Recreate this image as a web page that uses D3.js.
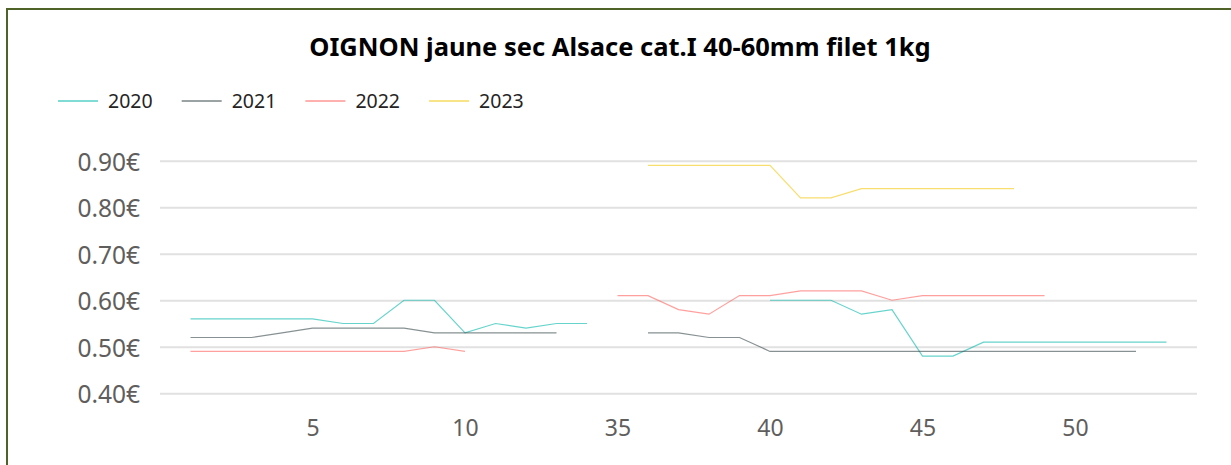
<!DOCTYPE html>
<html>
<head>
<meta charset="utf-8">
<script src="https://cdn.jsdelivr.net/npm/d3@7"></script>
<style>
  body { margin: 0; background: #fff; }
  svg { display: block; font-family: "Noto Sans", "Open Sans", sans-serif; }
</style>
</head>
<body>
<div id="chart"></div>
<script>
// week numbers shown on the x axis (gap between week 14 and 35)
const weeks = [1, 2, 3, 4, 5, 6, 7, 8, 9, 10, 11, 12, 13, 14,
    35, 36, 37, 38, 39, 40, 41, 42, 43, 44, 45, 46, 47, 48, 49, 50, 51, 52, 53];

const years = ["2020", "2021", "2022", "2023"];
const colors = ["#01B8AA", "#374649", "#FD625E", "#F2C80F"];

// prices per week, null = no quote
const p2020 = [0.56, 0.56, 0.56, 0.56, 0.56, 0.55, 0.55, 0.60, 0.60, 0.53, 0.55, 0.54, 0.55, 0.55,
    null, null, null, null, null, 0.60, 0.60, 0.60, 0.57, 0.58, 0.48, 0.48, 0.51, 0.51, 0.51, 0.51, 0.51, 0.51, 0.51];
const p2021 = [0.52, 0.52, 0.52, 0.53, 0.54, 0.54, 0.54, 0.54, 0.53, 0.53, 0.53, 0.53, 0.53, null,
    null, 0.53, 0.53, 0.52, 0.52, 0.49, 0.49, 0.49, 0.49, 0.49, 0.49, 0.49, 0.49, 0.49, 0.49, 0.49, 0.49, 0.49, null];
const p2022 = [0.49, 0.49, 0.49, 0.49, 0.49, 0.49, 0.49, 0.49, 0.50, 0.49, null, null, null, null,
    0.61, 0.61, 0.58, 0.57, 0.61, 0.61, 0.62, 0.62, 0.62, 0.60, 0.61, 0.61, 0.61, 0.61, 0.61, null, null, null, null];
const p2023 = [null, null, null, null, null, null, null, null, null, null, null, null, null, null,
    null, 0.89, 0.89, 0.89, 0.89, 0.89, 0.82, 0.82, 0.84, 0.84, 0.84, 0.84, 0.84, 0.84, null, null, null, null, null];

const yTicks = [0.40, 0.50, 0.60, 0.70, 0.80, 0.90];
const xTicks = [5, 10, 35, 40, 45, 50];

const series = [p2020, p2021, p2022, p2023];

const width = 1231, height = 465;
const plot = {left: 160, right: 1197, top: 160.7, bottom: 393.3};

let svg = d3.select("#chart")
    .append("svg")
    .attr("width", width)
    .attr("height", height);

// frame
svg.append("rect")
    .attr("x", 7)
    .attr("y", 9)
    .attr("width", width + 20)
    .attr("height", height + 20)
    .attr("fill", "none")
    .attr("stroke", "#4F6228")
    .attr("stroke-width", 2);

svg.append("text")
    .attr("x", 620)
    .attr("y", 56)
    .style("text-anchor", "middle")
    .style("font-size", "25.5px")
    .style("font-weight", "bold")
    .attr("fill", "#000")
    .text("OIGNON jaune sec Alsace cat.I 40-60mm filet 1kg");

// legend
let legend = svg.append("g");
years.forEach(function(yr, i) {
    let lx = 58 + i * 123.7;
    legend.append("line")
        .attr("x1", lx).attr("x2", lx + 40)
        .attr("y1", 101).attr("y2", 101)
        .attr("stroke", colors[i])
        .attr("stroke-width", 1);
    legend.append("text")
        .attr("x", lx + 50)
        .attr("y", 101)
        .attr("dy", "0.35em")
        .style("font-size", "19.5px")
        .attr("fill", "#252423")
        .text(yr);
});

let x = d3.scalePoint()
    .domain(weeks)
    .range([plot.left, plot.right])
    .padding(1);

let y = d3.scaleLinear()
    .domain([0.40, 0.90])
    .range([plot.bottom, plot.top]);

// y gridlines + labels
let yAxis = svg.append("g")
    .attr("transform", `translate(${plot.left}, 0)`)
    .call(d3.axisLeft(y)
        .tickValues(yTicks)
        .tickSize(-(plot.right - plot.left))
        .tickPadding(20)
        .tickFormat(function(d) { return d.toFixed(2) + "€"; }));

yAxis.select(".domain").remove();
yAxis.selectAll(".tick line")
    .attr("stroke", "#E1E1E1")
    .attr("stroke-width", 2);
yAxis.selectAll(".tick text")
    .attr("fill", "#605E5C")
    .style("font-size", "24.5px")
    .style("font-family", "'Noto Sans', sans-serif")
    .attr("dy", "0.38em");

// x axis labels
let xAxis = svg.append("g")
    .attr("transform", `translate(0, ${plot.bottom})`)
    .call(d3.axisBottom(x)
        .tickValues(xTicks)
        .tickSize(0)
        .tickPadding(26));

xAxis.select(".domain").remove();
xAxis.selectAll(".tick text")
    .attr("fill", "#605E5C")
    .style("font-size", "23px")
    .style("font-family", "'Noto Sans', sans-serif");

// lines
let line = d3.line()
    .defined(function(d) { return d.v != null; })
    .x(function(d) { return x(d.w); })
    .y(function(d) { return y(d.v); });

series.forEach(function(vals, i) {
    let data = weeks.map(function(w, j) { return {w: w, v: vals[j]}; });
    svg.append("path")
        .datum(data)
        .attr("fill", "none")
        .attr("stroke", colors[i])
        .attr("stroke-width", 1.2)
        .attr("stroke-opacity", 0.6)
        .attr("d", line);
});
</script>
</body>
</html>
